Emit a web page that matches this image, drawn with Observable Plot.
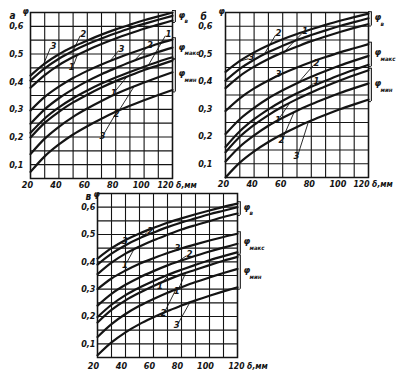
<!DOCTYPE html>
<html><head><meta charset="utf-8">
<script src="https://cdn.jsdelivr.net/npm/d3@7"></script>
<script src="https://cdn.jsdelivr.net/npm/@observablehq/plot@0.6"></script>
<style>
body{margin:0;background:#fff;}
#c{position:relative;width:397px;height:378px;overflow:hidden;background:#fff;}
#c > div{position:absolute;}
svg{overflow:visible;}
</style></head><body><div id="c"></div>
<script>
// δ, мм
const delta = [20,30,40,50,60,70,80,90,100,110,120];
const xTicks = [20,40,60,80,100];
const yTicks = [0.1,0.2,0.3,0.4,0.5,0.6];
const yTickLabels = ["0,1","0,2","0,3","0,4","0,5","0,6"];
const panelNames = ["а","б","в"];
const groupNames = ["в","макс","мин"];

// panel а
const a_v3   = [0.422,0.465,0.499,0.526,0.549,0.570,0.589,0.606,0.622,0.636,0.650];
const a_v2   = [0.404,0.448,0.483,0.511,0.535,0.556,0.575,0.593,0.609,0.624,0.638];
const a_v1   = [0.378,0.424,0.460,0.489,0.514,0.536,0.556,0.574,0.591,0.606,0.621];
const a_max3 = [0.296,0.345,0.382,0.413,0.439,0.462,0.483,0.502,0.520,0.537,0.552];
const a_max2 = [0.248,0.300,0.340,0.373,0.402,0.427,0.449,0.470,0.489,0.507,0.523];
const a_max1 = [0.215,0.267,0.307,0.340,0.368,0.393,0.415,0.435,0.454,0.472,0.488];
const a_min1 = [0.198,0.251,0.291,0.325,0.353,0.379,0.402,0.422,0.442,0.459,0.476];
const a_min2 = [0.138,0.194,0.237,0.273,0.303,0.330,0.355,0.377,0.397,0.416,0.434];
const a_min3 = [0.074,0.130,0.173,0.209,0.239,0.266,0.291,0.313,0.333,0.352,0.370];

// panel б
const b_v3   = [0.434,0.474,0.505,0.531,0.553,0.572,0.589,0.605,0.620,0.633,0.646];
const b_v2   = [0.402,0.445,0.478,0.506,0.529,0.550,0.568,0.585,0.601,0.615,0.629];
const b_v1   = [0.375,0.419,0.453,0.481,0.505,0.526,0.546,0.563,0.579,0.594,0.608];
const b_max3 = [0.292,0.338,0.374,0.403,0.428,0.450,0.470,0.488,0.505,0.520,0.535];
const b_max2 = [0.208,0.262,0.303,0.338,0.367,0.393,0.416,0.437,0.457,0.475,0.492];
const b_max1 = [0.161,0.218,0.262,0.298,0.329,0.356,0.380,0.402,0.423,0.442,0.460];
const b_min1 = [0.142,0.198,0.241,0.277,0.308,0.335,0.359,0.382,0.403,0.422,0.440];
const b_min2 = [0.108,0.162,0.203,0.238,0.267,0.293,0.316,0.337,0.357,0.375,0.392];
const b_min3 = [0.050,0.104,0.145,0.179,0.208,0.234,0.257,0.278,0.298,0.316,0.333];

// panel в
const c_v3   = [0.412,0.450,0.480,0.504,0.524,0.543,0.559,0.574,0.588,0.601,0.613];
const c_v2   = [0.390,0.430,0.461,0.486,0.507,0.527,0.544,0.559,0.574,0.587,0.600];
const c_v1   = [0.355,0.397,0.430,0.456,0.479,0.499,0.518,0.534,0.549,0.564,0.577];
const c_max3 = [0.300,0.339,0.368,0.393,0.413,0.432,0.449,0.464,0.478,0.491,0.503];
const c_max2 = [0.240,0.283,0.316,0.343,0.366,0.387,0.405,0.422,0.438,0.452,0.466];
const c_max1 = [0.198,0.243,0.278,0.306,0.330,0.352,0.371,0.389,0.406,0.421,0.435];
const c_min1 = [0.178,0.224,0.259,0.287,0.312,0.334,0.354,0.371,0.388,0.404,0.418];
const c_min2 = [0.125,0.172,0.209,0.239,0.264,0.287,0.307,0.326,0.343,0.359,0.374];
const c_min3 = [0.058,0.105,0.142,0.172,0.197,0.220,0.240,0.259,0.276,0.292,0.307];

// curve number labels: [group, number, label δ, label φ, δ where leader meets curve]
const a_notes = [["в","3",34,0.522,29],["в","2",55,0.566,50],["в","1",50.5,0.462,53],
  ["макс","3",82,0.512,76],["макс","2",102,0.524,93],["макс","1",115,0.566,103],
  ["мин","1",80,0.368,88],["мин","2",82,0.293,93],["мин","3",72,0.214,81]];
const b_notes = [["в","3",36,0.482,29.5],["в","2",55,0.568,47],["в","1",73.5,0.574,61],
  ["макс","3",55,0.418,48],["макс","2",81.5,0.458,71],["макс","1",81.5,0.392,74],
  ["мин","1",58,0.268,65],["мин","2",60.5,0.198,68],["мин","3",71,0.138,78]];
const c_notes = [["в","3",37.5,0.47,33],["в","2",55.5,0.507,49.5],["в","1",41,0.398,46],
  ["макс","3",75,0.442,70],["макс","2",83.5,0.422,77],["макс","1",66,0.322,71],
  ["мин","1",78,0.302,83],["мин","2",68.5,0.222,76],["мин","3",78,0.178,86]];

const panelData = [
  {v:[a_v1,a_v2,a_v3], max:[a_max1,a_max2,a_max3], min:[a_min1,a_min2,a_min3], notes:a_notes},
  {v:[b_v1,b_v2,b_v3], max:[b_max1,b_max2,b_max3], min:[b_min1,b_min2,b_min3], notes:b_notes},
  {v:[c_v1,c_v2,c_v3], max:[c_max1,c_max2,c_max3], min:[c_min1,c_min2,c_min3], notes:c_notes}
];

// layout of the three panels
const layout = [
  {left:0,  top:0,   width:200, height:192, ml:30, mr:28, mt:12, mb:14, ypad:7,  xdy:3, xdx:-3, d120:-15, nameDx:-21, nameDy:-1, phiDx:-8, phiDy:-5},
  {left:195,top:0,   width:202, height:191, ml:30, mr:29, mt:12, mb:14, ypad:13, xdy:3, xdx:-2, d120:-15, nameDx:-25, nameDy:0,  phiDx:-7, phiDy:-5},
  {left:67, top:181, width:205, height:197, ml:30, mr:35, mt:12, mb:21, ypad:2,  xdy:5, xdx:-4, d120:-9,  nameDx:-12, nameDy:-1, phiDx:-4, phiDy:-3}
];

const font = "'DejaVu Sans Condensed','Liberation Sans Narrow','DejaVu Sans',sans-serif";
const ink = "#141414";
const container = document.getElementById("c");

function valueAt(arr, x) {
  const i = Math.max(0, Math.min(delta.length - 2, d3.bisectRight(delta, x) - 1));
  const t = (x - delta[i]) / (delta[i + 1] - delta[i]);
  return arr[i] * (1 - t) + arr[i + 1] * t;
}

panelData.forEach((p, pi) => {
  const L = layout[pi];
  const groups = {"в": p.v, "макс": p.max, "мин": p.min};
  const rows = [];
  for (const g of groupNames) groups[g].forEach((arr, si) => {
    arr.forEach((phi, k) => rows.push({delta: delta[k], phi, key: g + si}));
  });
  const brackets = groupNames.map(g => {
    const ends = groups[g].map(a => a[a.length - 1]);
    const lo = d3.min(ends) - 0.007, hi = d3.max(ends) + 0.007;
    return {g, lo, hi, mid: (lo + hi) / 2};
  });
  const notes = p.notes.map(([g, n, lx, ly, cx]) => {
    const arr = groups[g][+n - 1];
    const cy = valueAt(arr, cx);
    return {n, lx, ly, cx, cy, above: ly > cy};
  });

  const chart = Plot.plot({
    width: L.width, height: L.height,
    marginLeft: L.ml, marginRight: L.mr, marginTop: L.mt, marginBottom: L.mb,
    x: {domain: [20, 120], axis: null},
    y: {domain: [0.05, 0.65], axis: null},
    style: {fontFamily: font, fontStyle: "italic", fontWeight: "bold", fontSize: "9px", background: "transparent", overflow: "visible", color: ink},
    marks: [
      Plot.ruleX(d3.range(20, 121, 10), {stroke: ink, strokeWidth: 1.1}),
      Plot.ruleY(d3.range(0.05, 0.651, 0.05), {stroke: ink, strokeWidth: 1.1}),
      Plot.frame({stroke: ink, strokeWidth: 1.5}),
      Plot.line(rows, {x: "delta", y: "phi", z: "key", stroke: ink, strokeWidth: 2.2, curve: "monotone-x"}),
      // y tick labels
      Plot.text(yTicks, {x: 20, y: d => d, text: (d, i) => yTickLabels[i], textAnchor: "end", dx: -L.ypad, fill: ink}),
      // x tick labels
      Plot.text(xTicks, {x: d => d, y: 0.05, text: d => String(d), lineAnchor: "top", dy: L.xdy, dx: L.xdx, fill: ink}),
      Plot.text(["120 δ,мм"], {x: 120, y: 0.05, text: d => d, lineAnchor: "top", textAnchor: "start", dy: L.xdy, dx: L.d120, fontSize: 8.5, fill: ink}),
      // panel letter and axis name
      Plot.text([panelNames[pi]], {frameAnchor: "top-left", text: d => d, dx: L.nameDx, dy: L.nameDy, fontSize: 10, fill: ink}),
      Plot.text(["φ"], {frameAnchor: "top-left", text: d => d, dx: L.phiDx, dy: L.phiDy, fontSize: 9, fill: ink}),
      // group brackets and names
      Plot.ruleX(brackets, {x: () => 122, y1: "lo", y2: "hi", stroke: ink, strokeWidth: 1.1}),
      Plot.ruleY(brackets, {y: "lo", x1: 120, x2: 122, stroke: ink, strokeWidth: 1.1}),
      Plot.ruleY(brackets, {y: "hi", x1: 120, x2: 122, stroke: ink, strokeWidth: 1.1}),
      Plot.text(brackets, {x: 120, y: "mid", text: () => "φ", textAnchor: "start", dx: 6, dy: -2, fontSize: 9.5, fill: ink}),
      Plot.text(brackets, {x: 120, y: "mid", text: "g", textAnchor: "start", dx: 12, dy: 5, fontSize: 6, fill: ink}),
      // curve numbers with leaders
      Plot.link(notes, {x1: "lx", y1: "ly", x2: "cx", y2: "cy", stroke: ink, strokeWidth: 0.9}),
      Plot.text(notes.filter(d => d.above), {x: "lx", y: "ly", text: "n", lineAnchor: "bottom", textAnchor: "start", dx: 0, dy: 1, fontSize: 9.5, fill: ink}),
      Plot.text(notes.filter(d => !d.above), {x: "lx", y: "ly", text: "n", lineAnchor: "top", textAnchor: "end", dx: 1, dy: -1, fontSize: 9.5, fill: ink})
    ]
  });
  const holder = document.createElement("div");
  holder.style.left = L.left + "px";
  holder.style.top = L.top + "px";
  holder.style.width = L.width + "px";
  holder.style.height = L.height + "px";
  holder.appendChild(chart);
  container.appendChild(holder);
});
</script>
</body></html>
